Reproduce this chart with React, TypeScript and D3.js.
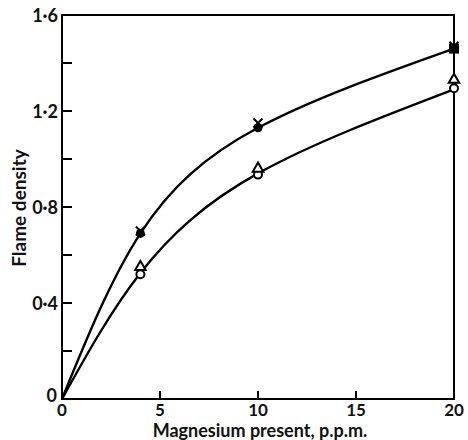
import React from "react";
import * as d3 from "d3";

const xTicks = [0, 5, 10, 15, 20];
const yTicks = [0, 0.2, 0.4, 0.6, 0.8, 1.0, 1.2, 1.4, 1.6];
const yLabels = ["0", "", "0·4", "", "0·8", "", "1·2", "", "1·6"];
const xLabels = ["0", "5", "10", "15", "20"];

const conc = [4, 10, 20];
const crossVals = [0.7, 1.15, 1.47];
const dotVals = [0.69, 1.13, 1.46];
const triVals = [0.55, 0.96, 1.33];
const ringVals = [0.52, 0.935, 1.295];

const curveX = [0, 4, 10, 20];
const upperCurve = [0, 0.69, 1.13, 1.46];
const lowerCurve = [0, 0.525, 0.94, 1.29];

const W = 468, H = 440;
const L = 62, R = 454, T = 15, B = 399;
const FONT = "Lato, 'Open Sans', sans-serif";

export default function App() {
  const x = d3.scaleLinear().domain([0, 20]).range([L, R]);
  const y = d3.scaleLinear().domain([0, 1.6]).range([B, T]);
  const line = d3
    .line<number>()
    .x((_, i) => x(curveX[i]))
    .y((d) => y(d))
    .curve(d3.curveNatural);
  const tri = d3.symbol(d3.symbolTriangle, 48)();
  return (
    <svg
      width={W}
      height={H}
      style={{ position: "absolute", left: 0, top: 0, background: "#fff" }}
    >
      <rect x={L} y={T} width={R - L} height={B - T} fill="none" stroke="#000" strokeWidth={2} />
      {yTicks.map((t, i) => (
        <g key={"y" + i}>
          {t > 0 && t < 1.6 && (
            <line x1={L} x2={L + 10} y1={y(t)} y2={y(t)} stroke="#000" strokeWidth={2} />
          )}
          {yLabels[i] && (
            <text
              x={t === 0 ? 57 : 58}
              y={t === 0 ? 402 : y(t) + 6.5}
              textAnchor="end"
              fontFamily={FONT}
              fontWeight="bold"
              fontSize={18}
              fill="#111"
            >
              {yLabels[i]}
            </text>
          )}
        </g>
      ))}
      {xTicks.map((t, i) => (
        <g key={"x" + i}>
          {t > 0 && t < 20 && (
            <line x1={x(t)} x2={x(t)} y1={B} y2={B - 8} stroke="#000" strokeWidth={2} />
          )}
          <text
            x={x(t)}
            y={416}
            textAnchor="middle"
            fontFamily={FONT}
            fontWeight="bold"
            fontSize={17}
            fill="#111"
          >
            {xLabels[i]}
          </text>
        </g>
      ))}
      <text
        x={260}
        y={437}
        textAnchor="middle"
        fontFamily={FONT}
        fontWeight="bold"
        fontSize={18}
        fill="#111"
      >
        Magnesium present, p.p.m.
      </text>
      <text
        transform={`translate(26,208) rotate(-90)`}
        textAnchor="middle"
        fontFamily={FONT}
        fontWeight="bold"
        fontSize={19}
        fill="#111"
      >
        Flame density
      </text>
      <path d={line(upperCurve) || ""} fill="none" stroke="#000" strokeWidth={2.4} />
      <path d={line(lowerCurve) || ""} fill="none" stroke="#000" strokeWidth={2.4} />
      {conc.map((c, i) =>
        i < 2 ? (
          <circle key={"d" + i} cx={x(c)} cy={y(dotVals[i])} r={4.5} fill="#000" />
        ) : (
          <rect key={"d" + i} x={x(c) - 5} y={y(dotVals[i]) - 5} width={10} height={10} fill="#000" />
        )
      )}
      {conc.map((c, i) => (
        <g key={"c" + i} transform={`translate(${x(c)},${y(crossVals[i])})`} stroke="#000" strokeWidth={2}>
          <line x1={-4.5} y1={-4.5} x2={4.5} y2={4.5} />
          <line x1={-4.5} y1={4.5} x2={4.5} y2={-4.5} />
        </g>
      ))}
      {conc.map((c, i) => (
        <circle key={"r" + i} cx={x(c)} cy={y(ringVals[i])} r={4} fill="#fff" stroke="#000" strokeWidth={2} />
      ))}
      {conc.map((c, i) => (
        <path
          key={"t" + i}
          d={tri || ""}
          transform={`translate(${x(c)},${y(triVals[i])})`}
          fill="#fff"
          stroke="#000"
          strokeWidth={2}
        />
      ))}
    </svg>
  );
}
